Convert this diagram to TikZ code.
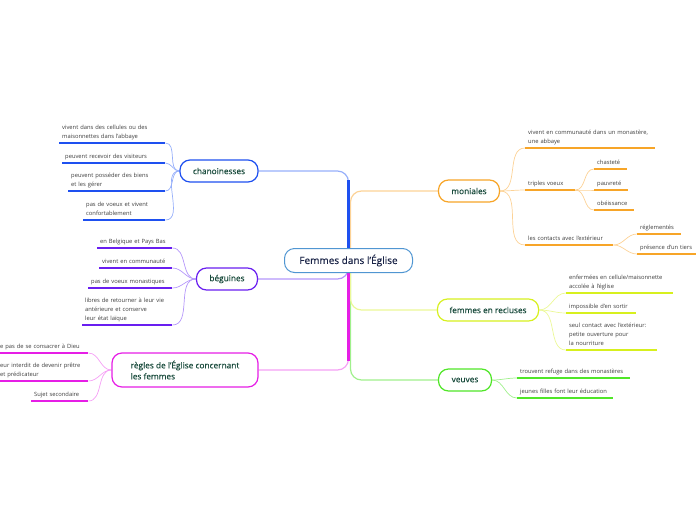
\documentclass[tikz,border=0pt]{standalone}
\usepackage{fontspec}
\setmainfont{Open Sans}
\newfontfamily\medfont[FakeBold=0.35]{Open Sans}
\usetikzlibrary{positioning, backgrounds, calc}

\definecolor{BlueS}{RGB}{30,80,240}
\definecolor{BlueL}{RGB}{150,175,250}
\definecolor{PurpleS}{RGB}{105,30,240}
\definecolor{PurpleL}{RGB}{180,150,250}
\definecolor{MagS}{RGB}{230,30,230}
\definecolor{MagL}{RGB}{245,160,245}
\definecolor{OrangeS}{RGB}{247,165,40}
\definecolor{OrangeL}{RGB}{252,210,150}
\definecolor{YellowS}{RGB}{215,240,30}
\definecolor{YellowL}{RGB}{235,248,150}
\definecolor{GreenS}{RGB}{80,230,40}
\definecolor{GreenL}{RGB}{160,240,140}
\definecolor{RootBlue}{RGB}{80,150,210}
\definecolor{RootText}{RGB}{25,35,70}
\definecolor{TopicText}{RGB}{25,75,60}
\definecolor{LeafText}{RGB}{60,60,60}

\newcommand{\leaffont}{\fontsize{5.8}{9}\selectfont}
\newcommand{\topicfont}{\medfont\fontsize{8.3}{11}\selectfont}

\begin{document}
\begin{tikzpicture}[x=1pt, y=-1pt]
  % Mind map: women in the Church
  \tikzset{
    root/.style={draw=RootBlue, line width=1pt, rounded corners=10pt, fill=white,
      text=RootText, font=\medfont\fontsize{10}{12}\selectfont, minimum width=128pt, minimum height=24pt},
    topic/.style={draw=#1, line width=1.2pt, rounded corners=10pt, fill=white,
      text=TopicText, font=\topicfont, inner xsep=12pt, minimum height=22pt, align=left},
    leaf/.style 2 args={font=\leaffont, text=LeafText, align=left, anchor=south west,
      inner xsep=3pt, inner ysep=2.5pt, text width=#2, execute at end node=\vphantom{g},
      append after command={(\tikzlastnode.south west) edge[draw=#1, line width=1.6pt] (\tikzlastnode.south east)}},
    twig/.style={draw=#1, line width=0.7pt},
    limb/.style={draw=#1, line width=1.2pt, rounded corners=11pt},
    trunk/.style={draw=#1, line width=2.4pt}
  }
  \useasboundingbox (0,0) rectangle (696,520);

  % Centre
  \node[root] (root) at (348.5,260.5) {Femmes dans l’Église};

  % Main topics
  \node[topic=BlueS, minimum width=78pt] (chan) at (219,171) {chanoinesses};
  \node[topic=PurpleS, minimum width=61pt] (beg) at (227,279) {béguines};
  \node[topic=MagS, minimum width=146pt, minimum height=34pt] (regl) at (185,370) {règles de l’Église concernant\\ les femmes};
  \node[topic=OrangeS, minimum width=61pt] (mon) at (469,191) {moniales};
  \node[topic=YellowS, minimum width=101pt] (recl) at (488,310) {femmes en recluses};
  \node[topic=GreenS, minimum width=53pt] (veuv) at (465,380) {veuves};

  % chanoinesses
  \node[leaf={BlueS}{100pt}] (c1) at (59,143) {vivent dans des cellules ou des\\maisonnettes dans l’abbaye};
  \node[leaf={BlueS}{97pt}] (c2) at (62,163) {peuvent recevoir des visiteurs};
  \node[leaf={BlueS}{91pt}] (c3) at (68,191) {peuvent posséder des biens\\ et les gérer};
  \node[leaf={BlueS}{76pt}] (c4) at (83,220) {pas de voeux et vivent\\confortablement};

  % béguines
  \node[leaf={PurpleS}{69pt}] (b1) at (97,248) {en Belgique et Pays Bas};
  \node[leaf={PurpleS}{67pt}] (b2) at (99,268) {vivent en communauté};
  \node[leaf={PurpleS}{78pt}] (b3) at (88,288) {pas de voeux monastiques};
  \node[leaf={PurpleS}{84pt}] (b4) at (82,325) {libres de retourner à leur vie\\antérieure et conserve\\leur état laïque};

  % règles
  \node[leaf={MagS}{85pt}] (r1) at (-3,353) {e pas de se consacrer à Dieu};
  \node[leaf={MagS}{85pt}] (r2) at (-3,381) {eur interdit de devenir prêtre\\et prédicateur};
  \node[leaf={MagS}{51pt}] (r3) at (31,401) {Sujet secondaire};

  % moniales
  \node[leaf={OrangeS}{124pt}] (m1) at (525,148) {vivent en communauté dans un monastère,\\ une abbaye};
  \node[leaf={OrangeS}{44pt}] (m2) at (525,190) {triples voeux};
  \node[leaf={OrangeS}{27pt}] (m2a) at (594,169) {chasteté};
  \node[leaf={OrangeS}{28pt}] (m2b) at (594,190) {pauvreté};
  \node[leaf={OrangeS}{34pt}] (m2c) at (594,210) {obéissance};
  \node[leaf={OrangeS}{82pt}] (m3) at (525,245) {les contacts avec l’extérieur};
  \node[leaf={OrangeS}{38pt}] (m3a) at (637,234) {réglementés};
  \node[leaf={OrangeS}{59pt}] (m3b) at (637,254) {présence d’un tiers};

  % femmes en recluses
  \node[leaf={YellowS}{101pt}] (f1) at (566,293) {enfermées en cellule/maisonnette\\accolée à l’église};
  \node[leaf={YellowS}{64pt}] (f2) at (566,313) {impossible d’en sortir};
  \node[leaf={YellowS}{85pt}] (f3) at (566,350) {seul contact avec l’extérieur:\\petite ouverture pour\\la nourriture};

  % veuves
  \node[leaf={GreenS}{107pt}] (v1) at (517,378) {trouvent refuge dans des monastères};
  \node[leaf={GreenS}{90pt}] (v2) at (517,398) {jeunes filles font leur éducation};

  \begin{scope}[on background layer]
    % Branches from the centre
    \draw[limb=GreenL] ([xshift=2pt]root.center) |- (veuv.west);
    \draw[limb=YellowL] ([xshift=2pt]root.center) |- (recl.west);
    \draw[limb=OrangeL] ([xshift=2pt]root.center) |- (mon.west);
    \draw[limb=BlueL] (root.center) |- (chan.east);
    \draw[limb=PurpleL] (root.center) |- (beg.east);
    \draw[limb=MagL] (root.center) |- (regl.east);
    \draw[trunk=BlueS] (root.center) -- ($(root.center |- chan.east)+(0,9)$);
    \draw[trunk=MagS] (root.center) -- ($(root.center |- regl.east)+(0,-9)$);

    % Twigs
    \foreach \leafname in {c1,c2,c3,c4}
      \draw[twig=BlueL] (chan.west) to[out=180, in=0] (\leafname.south east);
    \foreach \leafname in {b1,b2,b3,b4}
      \draw[twig=PurpleL] (beg.west) to[out=180, in=0] (\leafname.south east);
    \foreach \leafname in {r1,r2,r3}
      \draw[twig=MagL] (regl.west) to[out=180, in=0] (\leafname.south east);
    \foreach \leafname in {m1,m2,m3}
      \draw[twig=OrangeL] (mon.east) to[out=0, in=180] (\leafname.south west);
    \foreach \leafname in {m2a,m2b,m2c}
      \draw[twig=OrangeL] (m2.south east) to[out=0, in=180] (\leafname.south west);
    \foreach \leafname in {m3a,m3b}
      \draw[twig=OrangeL] (m3.south east) to[out=0, in=180] (\leafname.south west);
    \foreach \leafname in {f1,f2,f3}
      \draw[twig=YellowL] (recl.east) to[out=0, in=180] (\leafname.south west);
    \foreach \leafname in {v1,v2}
      \draw[twig=GreenL] (veuv.east) to[out=0, in=180] (\leafname.south west);
  \end{scope}
\end{tikzpicture}
\end{document}
